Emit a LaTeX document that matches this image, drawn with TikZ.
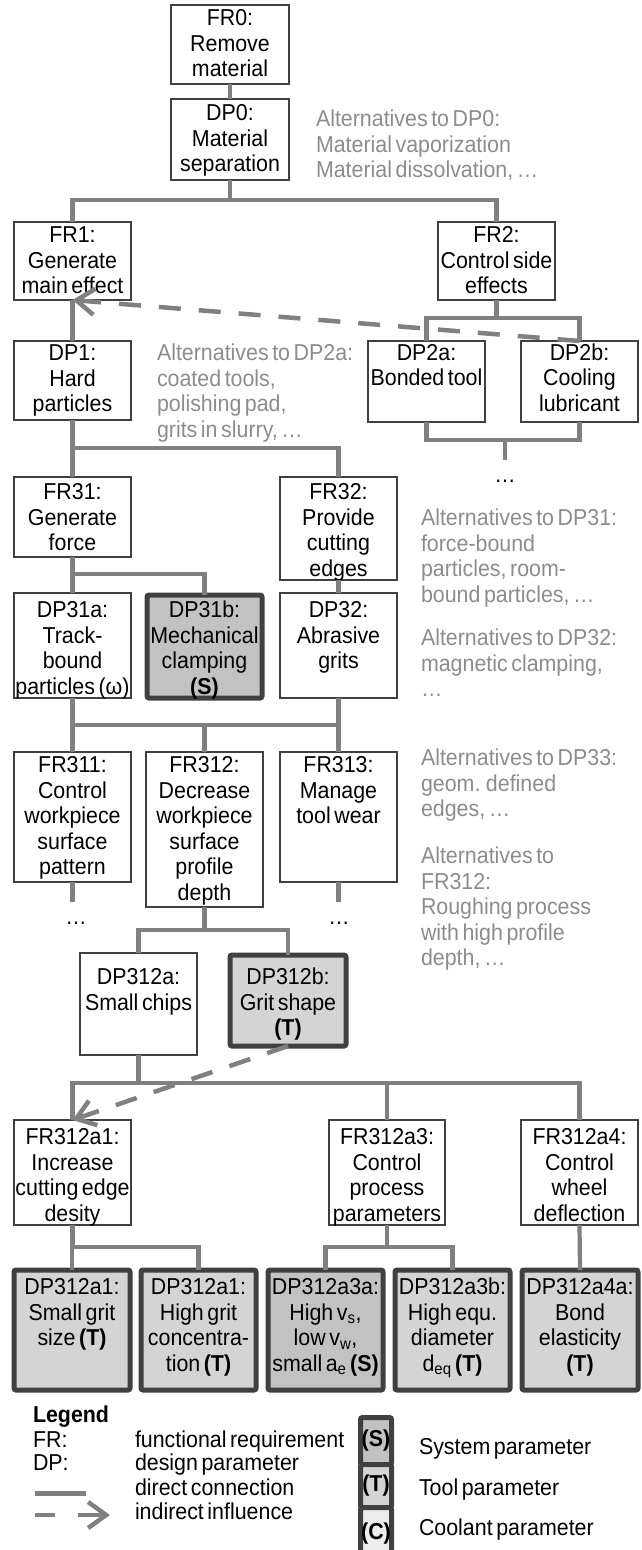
\documentclass[tikz,border=0pt]{standalone}
\usepackage{fontspec}
\setmainfont{Liberation Sans}[WordSpace=0.6, FakeStretch=0.93]
\usetikzlibrary{arrows.meta}
\definecolor{linkc}{HTML}{808080}
\definecolor{bord}{HTML}{404040}
\definecolor{altc}{HTML}{8C8C8C}
\definecolor{fillS}{HTML}{C2C2C2}
\definecolor{fillT}{HTML}{D4D4D4}
\definecolor{fillC}{HTML}{EDEDED}
% name, style, x1, y1, x2, y2, first baseline, text
\newcommand\bx[8]{\node[#2, anchor=north west] (#1) at (#3,#4) {\vbox to \dimexpr #6pt-#4pt\relax{\hbox to \dimexpr #5pt-#3pt\relax{\hss\begin{tabular}[t]{@{}c@{}}\rule{0pt}{#7pt}#8\end{tabular}\hss}\vss}};}
\begin{document}
\begin{tikzpicture}[x=1pt,y=-1pt,
  every node/.style={font=\fontsize{23}{25.5}\selectfont, inner sep=0pt, outer sep=0pt},
  frbox/.style={draw=bord, line width=1.4pt, fill=white},
  sbox/.style={draw=bord, line width=5pt, fill=fillS, rounded corners=2pt},
  tbox/.style={draw=bord, line width=5pt, fill=fillT, rounded corners=2pt},
  cbox/.style={draw=bord, line width=5pt, fill=fillC, rounded corners=2pt},
  link/.style={draw=linkc, line width=4.2pt},
  infl/.style={draw=linkc, line width=4.5pt, dash pattern=on 22pt off 18pt, -{Straight Barb[length=18pt,width=26pt]}},
  alttext/.style={text=altc, align=left, anchor=north west},
  lgtext/.style={anchor=base west}]
\useasboundingbox (0,0) rectangle (641,1550);

% ---- boxes ----
\bx{FR0}{frbox}{171}{5}{289}{84}{20.5}{FR0:\\Remove\\material}
\bx{DP0}{frbox}{171}{99}{289}{180}{21.5}{DP0:\\Material\\separation}
\bx{FR1}{frbox}{14}{222}{131}{300}{20.5}{FR1:\\Generate\\main effect}
\bx{FR2}{frbox}{438}{222}{555}{300}{20.5}{FR2:\\Control side\\effects}
\bx{DP1}{frbox}{14}{341}{131}{420}{19.5}{DP1:\\Hard\\particles}
\bx{DP2a}{frbox}{368}{341}{485}{422}{19}{DP2a:\\Bonded tool}
\bx{DP2b}{frbox}{521}{341}{638}{422}{19}{DP2b:\\Cooling\\lubricant}
\bx{FR31}{frbox}{14}{477}{131}{557}{22.5}{FR31:\\Generate\\force}
\bx{FR32}{frbox}{280}{477}{397}{580}{22.5}{FR32:\\Provide\\cutting\\edges}
\bx{DP31a}{frbox}{14}{593}{131}{698}{24.5}{DP31a:\\Track-\\bound\\particles (ω)}
\bx{DP31b}{sbox}{147}{595}{262}{698}{22.5}{DP31b:\\Mechanical\\clamping\\\textbf{(S)}}
\bx{DP32}{frbox}{280}{593}{397}{698}{24.5}{DP32:\\Abrasive\\grits}
\bx{FR311}{frbox}{14}{752}{131}{882}{20.5}{FR311:\\Control\\workpiece\\surface\\pattern}
\bx{FR312}{frbox}{146}{752}{263}{907}{20.5}{FR312:\\Decrease\\workpiece\\surface\\profile\\depth}
\bx{FR313}{frbox}{280}{752}{397}{882}{20.5}{FR313:\\Manage\\tool wear}
\bx{DP312a}{frbox}{80}{953}{197}{1055}{31.5}{DP312a:\\Small chips}
\bx{DP312b}{tbox}{230}{955}{346}{1046}{29.5}{DP312b:\\Grit shape\\\textbf{(T)}}
\bx{FR312a1}{frbox}{14}{1120}{131}{1225}{24.5}{FR312a1:\\Increase\\cutting edge\\desity}
\bx{FR312a3}{frbox}{329}{1120}{445}{1225}{24.5}{FR312a3:\\Control\\process\\parameters}
\bx{FR312a4}{frbox}{521}{1120}{638}{1225}{24.5}{FR312a4:\\Control\\wheel\\deflection}
\bx{DPa1}{tbox}{14}{1270}{130}{1390}{24.5}{DP312a1:\\Small grit\\size \textbf{(T)}}
\bx{DPa2}{tbox}{141}{1270}{256}{1390}{24.5}{DP312a1:\\High grit\\concentra-\\tion \textbf{(T)}}
\bx{DPa3}{sbox}{268}{1270}{383}{1390}{24.5}{DP312a3a:\\High v\textsubscript{s},\\low v\textsubscript{w},\\small a\textsubscript{e} \textbf{(S)}}
\bx{DPa4}{tbox}{395}{1270}{510}{1390}{24.5}{DP312a3b:\\High equ.\\diameter\\d\textsubscript{eq} \textbf{(T)}}
\bx{DPa5}{tbox}{522}{1270}{638}{1390}{24.5}{DP312a4a:\\Bond\\elasticity\\\textbf{(T)}}

% ---- ellipses under open branches ----
\node[anchor=base] (dotsA) at (505,482) {…};
\node[anchor=base] (dotsB) at (76,924) {…};
\node[anchor=base] (dotsC) at (339,924) {…};

% ---- bar levels ----
\coordinate (b1) at (0,200);
\coordinate (b2) at (0,318);
\coordinate (b3) at (0,440);
\coordinate (b4) at (0,448);
\coordinate (b5) at (0,574);
\coordinate (b6) at (0,725);
\coordinate (b7) at (0,930);
\coordinate (b8) at (0,1083);
\coordinate (b9) at (0,1247);
\coordinate (cA) at (505,460);
\coordinate (cB) at (72.5,902);
\coordinate (cC) at (338.5,902);

% ---- direct connections ----
\draw[link] (FR0.south) -- (DP0.north);
\draw[link] (DP0.south) -- (DP0.south |- b1);
\draw[link] (FR1.north) -- (FR1.north |- b1) -- (FR2.north |- b1) -- (FR2.north);
\draw[link] (FR1.south) -- (DP1.north);
\draw[link] (FR2.south) -- (FR2.south |- b2);
\draw[link] (DP2a.north) -- (DP2a.north |- b2) -- (DP2b.north |- b2) -- (DP2b.north);
\draw[link] (DP2a.south) -- (DP2a.south |- b3) -- (DP2b.south |- b3) -- (DP2b.south);
\draw[link] (cA |- b3) -- (cA);
\draw[link] (DP1.south) -- (FR31.north);
\draw[link] (FR31.north |- b4) -- (FR32.north |- b4) -- (FR32.north);
\draw[link] (FR31.south) -- (DP31a.north);
\draw[link] (DP31a.north |- b5) -- (DP31b.north |- b5) -- (DP31b.north);
\draw[link] (FR32.south) -- (DP32.north);
\draw[link] (DP31a.south) -- (FR311.north);
\draw[link] (DP32.south) -- (FR313.north);
\draw[link] (FR311.north |- b6) -- (FR313.north |- b6);
\draw[link] (FR312.north |- b6) -- (FR312.north);
\draw[link] (FR311.south) -- (cB);
\draw[link] (FR313.south) -- (cC);
\draw[link] (FR312.south) -- (FR312.south |- b7);
\draw[link] (DP312a.north) -- (DP312a.north |- b7) -- (DP312b.north |- b7) -- (DP312b.north);
\draw[link] (DP312a.south) -- (DP312a.south |- b8);
\draw[link] (FR312a1.north) -- (FR312a1.north |- b8) -- (FR312a4.north |- b8) -- (FR312a4.north);
\draw[link] (FR312a3.north |- b8) -- (FR312a3.north);
\draw[link] (FR312a1.south) -- (FR312a1.south |- b9);
\draw[link] (DPa1.north) -- (DPa1.north |- b9) -- (DPa2.north |- b9) -- (DPa2.north);
\draw[link] (FR312a3.south) -- (FR312a3.south |- b9);
\draw[link] (DPa3.north) -- (DPa3.north |- b9) -- (DPa4.north |- b9) -- (DPa4.north);
\draw[link] (FR312a4.south) -- (DPa5.north);

% ---- indirect influences ----
\draw[infl] (DP2b.north) -- (FR1.south);
\draw[infl] (DP312b.south) -- (FR312a1.north);

% ---- alternatives ----
\node[alttext] (alt0) at (316,110) {Alternatives to DP0:\\Material vaporization\\Material dissolvation, …};
\node[alttext] (alt2a) at (157,344) {Alternatives to DP2a:\\coated tools,\\polishing pad,\\grits in slurry, …};
\node[alttext] (alt31) at (421,509) {Alternatives to DP31:\\force-bound\\particles, room-\\bound particles, …};
\node[alttext] (alt32) at (421,629) {Alternatives to DP32:\\magnetic clamping,\\…};
\node[alttext] (alt33) at (421,749) {Alternatives to DP33:\\geom. defined\\edges, …};
\node[alttext] (alt312) at (421,847) {Alternatives to\\FR312:\\Roughing process\\with high profile\\depth, …};

% ---- legend ----
\node[lgtext, font=\fontsize{23}{25.5}\selectfont\bfseries] (lgH) at (33,1422.5) {Legend};
\node[lgtext] (lgFR) at (33,1447.5) {FR:};
\node[lgtext] (lgDP) at (33,1470.5) {DP:};
\node[lgtext] (lgFRt) at (135,1447.5) {functional requirement};
\node[lgtext] (lgDPt) at (135,1470.5) {design parameter};
\node[lgtext] (lgDC) at (135,1495.5) {direct connection};
\node[lgtext] (lgII) at (135,1519.5) {indirect influence};
\coordinate (ls1) at (35,1493);
\coordinate (ls2) at (86,1493);
\draw[link, line width=5pt] (ls1) -- (ls2);
\coordinate (ld1) at (35,1515);
\coordinate (ld2) at (110,1515);
\draw[infl, dash pattern=on 20pt off 23pt on 60pt] (ld1) -- (ld2);
\node[sbox, anchor=north west, minimum width=31pt, minimum height=47pt] (lgS) at (360.5,1417.5) {\textbf{(S)}};
\node[tbox, anchor=north west, minimum width=31pt, minimum height=43pt] (lgT) at (360.5,1464.5) {\textbf{(T)}};
\node[cbox, anchor=north west, minimum width=31pt, minimum height=53pt] (lgC) at (360.5,1507.5) {\textbf{(C)}};
\node[lgtext] (lgSt) at (419,1454.5) {System parameter};
\node[lgtext] (lgTt) at (419,1495.5) {Tool parameter};
\node[lgtext] (lgCt) at (419,1535.5) {Coolant parameter};
\end{tikzpicture}
\end{document}
